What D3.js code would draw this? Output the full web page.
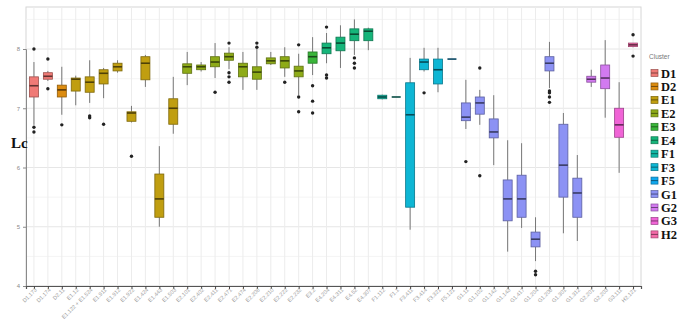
<!DOCTYPE html>
<html><head><meta charset="utf-8">
<script src="https://cdn.jsdelivr.net/npm/d3@7"></script>
<style>
html,body{margin:0;padding:0;background:#fff;}
svg{display:block;}
</style></head>
<body>
<svg id="chart" width="684" height="332"></svg>
<script>
const categories = ["D1.173","D1.174","D2.11","E1.12","E1.122 + E1.524","E1.911","E1.912","E1.922","E1.424","E1.443","E1.503",
 "E2.101","E2.402","E2.411","E2.471","E2.474","E2.208","E2.210","E2.222","E2.232","E3.2","E4.204","E4.311","E4.52","E4.307",
 "F1.112","F1.1","F3.411","F3.414","F3.321","F5.121",
 "G1.11","G1.102","G1.142","G1.143","G1.417","G1.204","G1.206","G1.301","G1.312","G2.201","G2.203","G3.111","H2.121"];
const clusterOf = ["D1","D1","D2","E1","E1","E1","E1","E1","E1","E1","E1",
 "E2","E2","E2","E2","E2","E2","E2","E2","E2","E3","E4","E4","E4","E4",
 "F1","F1","F3","F3","F3","F5",
 "G1","G1","G1","G1","G1","G1","G1","G1","G1","G2","G2","G3","H2"];
const whiskerLow  = [6.72,7.46,6.89,7.05,7.09,7.17,7.60,6.76,7.36,5.00,6.57, 7.39,7.62,7.51,7.66,7.31,7.31,7.73,7.53,7.22,7.56,7.76,7.68,7.90,7.98, 7.15,7.19,4.95,7.62,7.27,7.83, 6.65,6.72,6.04,4.58,4.98,4.42,7.34,4.89,4.76,7.36,6.84,5.91,8.03];
const q1          = [7.19,7.49,7.19,7.29,7.27,7.41,7.63,6.78,7.48,5.16,6.73, 7.59,7.65,7.70,7.81,7.53,7.49,7.75,7.68,7.53,7.76,7.92,7.97,8.14,8.14, 7.16,7.19,5.33,7.65,7.41,7.83, 6.79,6.90,6.50,5.10,5.16,4.66,7.63,5.50,5.16,7.44,7.33,6.51,8.04];
const median      = [7.38,7.54,7.31,7.49,7.44,7.59,7.70,6.92,7.76,5.47,7.00, 7.70,7.70,7.78,7.87,7.70,7.61,7.80,7.80,7.63,7.87,8.02,8.10,8.25,8.30, 7.19,7.19,6.89,7.78,7.65,7.83, 6.85,7.09,6.60,5.47,5.47,4.79,7.76,6.04,5.57,7.49,7.51,6.72,8.07];
const q3          = [7.53,7.60,7.39,7.51,7.53,7.65,7.76,6.94,7.87,5.89,7.16, 7.75,7.73,7.87,7.93,7.76,7.70,7.85,7.87,7.71,7.95,8.10,8.20,8.34,8.34, 7.22,7.19,7.43,7.83,7.83,7.83, 7.09,7.19,6.82,5.79,5.87,4.91,7.87,6.73,5.82,7.54,7.73,7.00,8.10];
const whiskerHigh = [7.78,7.63,7.70,7.55,7.81,7.68,7.81,7.04,7.90,6.36,7.53, 7.95,7.78,8.10,8.03,7.95,8.00,7.95,8.03,7.92,8.20,8.27,8.40,8.50,8.36, 7.23,7.19,7.85,8.02,8.02,7.83, 7.48,7.31,7.22,6.46,6.41,5.16,8.12,6.92,6.21,7.65,8.15,7.44,8.10];
const outliers = [[8.0,6.68,6.60],[7.83,7.33],[6.72],[],[6.87,6.84],[6.73],[],[6.19],[],[],[],
 [],[],[7.27],[8.10,7.60,7.53,7.44],[],[8.10,8.03],[],[7.44],[8.07,7.19,6.94],[7.38,7.12,6.92],[8.37,7.56,7.51],[],[7.85,7.76,7.68],[],
 [],[],[],[7.26],[],[],
 [6.10],[7.68,5.86],[],[],[],[4.25,4.19],[7.29,7.26,7.19,7.10],[],[],[],[],[],[8.24,7.88]];
const clusters = ["D1","D2","E1","E2","E3","E4","F1","F3","F5","G1","G2","G3","H2"];
const clusterColors = ["#F07A76","#DC8C10","#C09E10","#8EAB18","#3AB53A","#16B57A","#10B9A6","#0EB6D4","#10A8EE","#8C92F4","#D27AF0","#F064D6","#F46AA8"];
const yTicks = [4,5,6,7,8];
const yMinor = [4.5,5.5,6.5,7.5,8.5];

const svg = d3.select("#chart");
const L = 26, R = 641, T = 7, B = 286;
const x = d3.scalePoint().domain(categories).range([L, R]).padding(0.57);
const y = d3.scaleLinear().domain([4, 8]).range([B, 49]);
const color = d3.scaleOrdinal().domain(clusters).range(clusterColors);
const bw = 9;

const data = categories.map((c, i) => ({c, cl: clusterOf[i], lo: whiskerLow[i], q1: q1[i], med: median[i], q3: q3[i], hi: whiskerHigh[i], out: outliers[i]}));

// panel
svg.append("rect").attr("x", L).attr("y", T).attr("width", R - L).attr("height", B - T)
  .attr("fill", "#fff").attr("stroke", "#d6d6d6").attr("stroke-width", 1);
// grid
const g = svg.append("g");
g.selectAll(".hmin").data(yMinor.filter(v => y(v) > T)).join("line")
  .attr("x1", L).attr("x2", R).attr("y1", d => y(d)).attr("y2", d => y(d))
  .attr("stroke", "#f1f1f1").attr("stroke-width", 0.8);
g.selectAll(".hmaj").data(yTicks).join("line")
  .attr("x1", L).attr("x2", R).attr("y1", d => y(d)).attr("y2", d => y(d))
  .attr("stroke", "#e6e6e6").attr("stroke-width", 1);
g.selectAll(".v").data(categories).join("line")
  .attr("x1", d => x(d)).attr("x2", d => x(d)).attr("y1", T).attr("y2", B)
  .attr("stroke", "#ececec").attr("stroke-width", 1);

// axes
const ya = svg.append("g").attr("transform", `translate(${L},0)`)
  .call(d3.axisLeft(y).tickValues(yTicks).tickSize(3).tickFormat(d3.format("d")));
ya.select(".domain").attr("stroke", "#8a8a8a");
ya.selectAll(".tick line").attr("stroke", "#8a8a8a");
ya.selectAll("text").attr("font-size", 6).attr("fill", "#8a8a8a").attr("font-family", "Liberation Sans, Arial, sans-serif");

const xa = svg.append("g").attr("transform", `translate(0,${B})`)
  .call(d3.axisBottom(x).tickSize(3));
xa.select(".domain").attr("stroke", "#555").attr("stroke-width", 1.2);
xa.selectAll(".tick line").attr("stroke", "#444");
xa.selectAll("text").attr("font-size", 5.5).attr("fill", "#9a9a9a")
  .attr("font-family", "Liberation Sans, Arial, sans-serif")
  .attr("text-anchor", "end").attr("dy", 0).attr("y", 5).attr("x", -1)
  .attr("transform", "rotate(-45)");

// boxes
const bx = svg.append("g").selectAll("g").data(data).join("g")
  .attr("transform", d => `translate(${x(d.c)},0)`);
bx.append("line").attr("x1", 0).attr("x2", 0).attr("y1", d => y(d.hi)).attr("y2", d => y(d.q3))
  .attr("stroke", "#6a6a6a").attr("stroke-width", 0.9);
bx.append("line").attr("x1", 0).attr("x2", 0).attr("y1", d => y(d.q1)).attr("y2", d => y(d.lo))
  .attr("stroke", "#6a6a6a").attr("stroke-width", 0.9);
bx.append("rect").attr("x", -bw / 2).attr("width", bw)
  .attr("y", d => y(d.q3)).attr("height", d => Math.max(0, y(d.q1) - y(d.q3)))
  .attr("fill", d => color(d.cl)).attr("stroke", d => d3.color(color(d.cl)).darker(1.2)).attr("stroke-width", 0.8);
bx.append("line").attr("x1", -bw / 2).attr("x2", bw / 2).attr("y1", d => y(d.med)).attr("y2", d => y(d.med))
  .attr("stroke", d => d3.color(color(d.cl)).darker(2.5)).attr("stroke-width", 1.6);
bx.selectAll("circle").data(d => d.out).join("circle")
  .attr("cx", 0).attr("cy", d => y(d)).attr("r", 1.7).attr("fill", "#222");

// clipped y title
svg.append("text").attr("x", 11).attr("y", 148).text("Lc")
  .attr("font-family", "Liberation Serif, Times New Roman, serif").attr("font-weight", "bold")
  .attr("font-size", 15).attr("fill", "#111");

// legend
const lg = svg.append("g");
lg.append("text").attr("x", 649).attr("y", 59).text("Cluster")
  .attr("font-family", "Liberation Sans, Arial, sans-serif").attr("font-size", 6.5).attr("fill", "#777");
const items = lg.selectAll(".it").data(clusters).join("g")
  .attr("transform", (d, i) => `translate(651,${73 + i * 13.45})`);
items.append("rect").attr("x", 0).attr("y", -3.5).attr("width", 7).attr("height", 7)
  .attr("fill", d => color(d)).attr("stroke", d => d3.color(color(d)).darker(1.2)).attr("stroke-width", 0.7);
items.append("line").attr("x1", 0).attr("x2", 7).attr("y1", 0).attr("y2", 0)
  .attr("stroke", d => d3.color(color(d)).darker(2.5)).attr("stroke-width", 0.8);
items.append("text").attr("x", 10).attr("y", 4.5).text(d => d)
  .attr("font-family", "Liberation Serif, Times New Roman, serif").attr("font-weight", "bold")
  .attr("font-size", 12.5).attr("fill", "#111");
</script>
</body></html>
